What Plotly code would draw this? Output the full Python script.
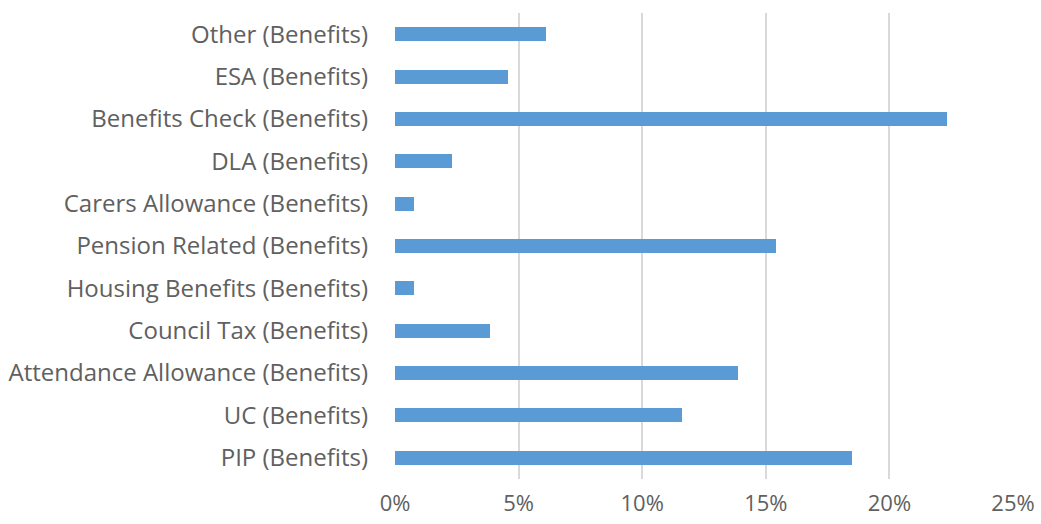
import plotly.graph_objects as go

categories = [
    "Other (Benefits)",
    "ESA (Benefits)",
    "Benefits Check (Benefits)",
    "DLA (Benefits)",
    "Carers Allowance (Benefits)",
    "Pension Related (Benefits)",
    "Housing Benefits (Benefits)",
    "Council Tax (Benefits)",
    "Attendance Allowance (Benefits)",
    "UC (Benefits)",
    "PIP (Benefits)",
]
values = [0.0612, 0.0458, 0.2231, 0.0230, 0.0075, 0.1540, 0.0075, 0.0385, 0.1386, 0.1159, 0.1850]
tick_vals = [0, 0.05, 0.10, 0.15, 0.20, 0.25]
tick_text = ["0%", "5%", "10%", "15%", "20%", "25%"]

fig = go.Figure(go.Bar(
    x=values, y=categories, orientation="h",
    marker=dict(color="#5B9BD5", line=dict(width=0)),
    width=0.33,
))

font_family = "Open Sans"
fig.update_layout(
    width=1041, height=524,
    margin=dict(l=395, r=28, t=13, b=45, autoexpand=False),
    paper_bgcolor="white", plot_bgcolor="white",
    showlegend=False,
    font=dict(family=font_family, size=24, color="#606060"),
    bargap=0,
)
fig.update_xaxes(
    range=[0, 0.25], tickvals=tick_vals, ticktext=tick_text,
    showgrid=True, gridcolor="#D9D9D9", gridwidth=1.5,
    zeroline=False, showline=False, ticks="",
    ticklabelstandoff=9, automargin=False,
    tickfont=dict(size=22),
)
fig.update_yaxes(
    autorange="reversed", showgrid=False, zeroline=False,
    showline=False, ticks="", ticklabelstandoff=26, automargin=False,
)
fig.write_html("out.html")
